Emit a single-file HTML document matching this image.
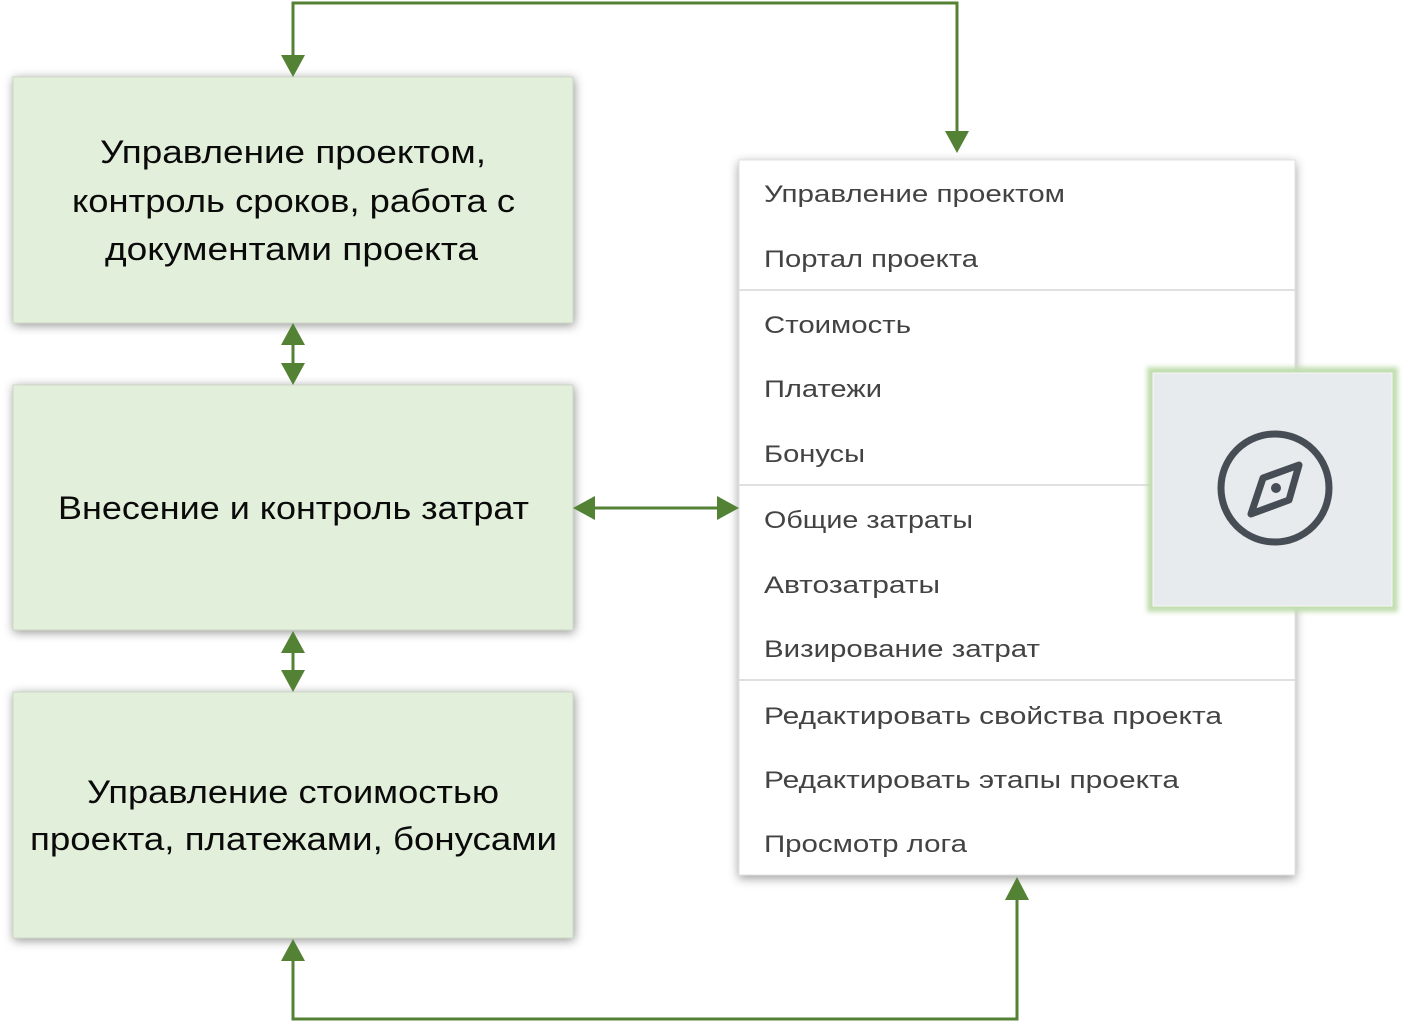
<!DOCTYPE html>
<html>
<head>
<meta charset="utf-8">
<style>
  html,body{margin:0;padding:0;background:#ffffff;}
  svg{display:block;}
  .bx{font-family:"Liberation Sans","Noto Sans CJK SC",sans-serif;font-size:32px;fill:#0a0a0a;}
  .mi{font-family:"Liberation Sans","Noto Sans CJK SC",sans-serif;font-size:24px;fill:#434343;}
</style>
</head>
<body>
<svg width="1407" height="1023" viewBox="0 0 1407 1023" xmlns="http://www.w3.org/2000/svg">
  <defs>
    <filter id="sh" x="-10%" y="-10%" width="120%" height="120%">
      <feDropShadow dx="1" dy="2" stdDeviation="5" flood-color="#000" flood-opacity="0.42"/>
    </filter>
    <filter id="msh" x="-10%" y="-10%" width="120%" height="120%">
      <feDropShadow dx="0" dy="3" stdDeviation="5" flood-color="#000" flood-opacity="0.38"/>
    </filter>
    <filter id="glow" x="-20%" y="-20%" width="140%" height="140%">
      <feGaussianBlur stdDeviation="2.5"/>
    </filter>
  </defs>

  <!-- Left boxes -->
  <rect x="13" y="77" width="560" height="246" fill="#e2efda" stroke="#cdd7c7" stroke-width="1" filter="url(#sh)"/>
  <rect x="13" y="385" width="560" height="245" fill="#e2efda" stroke="#cdd7c7" stroke-width="1" filter="url(#sh)"/>
  <rect x="13" y="692" width="560" height="246" fill="#e2efda" stroke="#cdd7c7" stroke-width="1" filter="url(#sh)"/>

  <text class="bx" x="100" y="163" textLength="386" lengthAdjust="spacingAndGlyphs">Управление проектом,</text>
  <text class="bx" x="72" y="212" textLength="443" lengthAdjust="spacingAndGlyphs">контроль сроков, работа с</text>
  <text class="bx" x="105" y="260" textLength="373" lengthAdjust="spacingAndGlyphs">документами проекта</text>

  <text class="bx" x="58" y="519" textLength="471" lengthAdjust="spacingAndGlyphs">Внесение и контроль затрат</text>

  <text class="bx" x="87" y="803" textLength="412" lengthAdjust="spacingAndGlyphs">Управление стоимостью</text>
  <text class="bx" x="30" y="850" textLength="527" lengthAdjust="spacingAndGlyphs">проекта, платежами, бонусами</text>

  <!-- Menu -->
  <rect x="739" y="160" width="556" height="715" fill="#ffffff" stroke="#e2e2e2" stroke-width="1" filter="url(#msh)"/>
  <line x1="739" y1="290" x2="1295" y2="290" stroke="#e0e0e0" stroke-width="2"/>
  <line x1="739" y1="485" x2="1295" y2="485" stroke="#e0e0e0" stroke-width="2"/>
  <line x1="739" y1="680" x2="1295" y2="680" stroke="#e0e0e0" stroke-width="2"/>

  <text class="mi" x="764" y="202" textLength="301" lengthAdjust="spacingAndGlyphs">Управление проектом</text>
  <text class="mi" x="764" y="267" textLength="214" lengthAdjust="spacingAndGlyphs">Портал проекта</text>
  <text class="mi" x="764" y="333" textLength="147" lengthAdjust="spacingAndGlyphs">Стоимость</text>
  <text class="mi" x="764" y="397" textLength="118" lengthAdjust="spacingAndGlyphs">Платежи</text>
  <text class="mi" x="764" y="462" textLength="101" lengthAdjust="spacingAndGlyphs">Бонусы</text>
  <text class="mi" x="764" y="528" textLength="209" lengthAdjust="spacingAndGlyphs">Общие затраты</text>
  <text class="mi" x="764" y="593" textLength="176" lengthAdjust="spacingAndGlyphs">Автозатраты</text>
  <text class="mi" x="764" y="657" textLength="276" lengthAdjust="spacingAndGlyphs">Визирование затрат</text>
  <text class="mi" x="764" y="724" textLength="458" lengthAdjust="spacingAndGlyphs">Редактировать свойства проекта</text>
  <text class="mi" x="764" y="788" textLength="415" lengthAdjust="spacingAndGlyphs">Редактировать этапы проекта</text>
  <text class="mi" x="764" y="852" textLength="203" lengthAdjust="spacingAndGlyphs">Просмотр лога</text>

  <!-- Compass card -->
  <rect x="1147" y="367" width="251" height="245" fill="#c2deb0" filter="url(#glow)"/>
  <rect x="1153" y="373" width="239" height="233" fill="#e8ebee" stroke="#f6f7f8" stroke-width="1"/>
  <circle cx="1275" cy="488" r="54" fill="none" stroke="#474d55" stroke-width="7"/>
  <polygon points="1299,465 1263,478 1251,514 1289,500" fill="none" stroke="#474d55" stroke-width="7" stroke-linejoin="round"/>
  <circle cx="1276" cy="488" r="5" fill="#474d55"/>

  <!-- Connectors -->
  <g stroke="#548235" stroke-width="3" fill="none">
    <polyline points="293,57 293,3 957,3 957,133"/>
    <line x1="293" y1="343" x2="293" y2="365"/>
    <line x1="293" y1="651" x2="293" y2="672"/>
    <line x1="593" y1="508" x2="719" y2="508"/>
    <polyline points="293,959 293,1019 1017,1019 1017,898"/>
  </g>
  <g fill="#548235">
    <polygon points="281,55 305,55 293,77"/>
    <polygon points="945,131 969,131 957,153"/>
    <polygon points="281,345 305,345 293,323"/>
    <polygon points="281,363 305,363 293,385"/>
    <polygon points="281,653 305,653 293,631"/>
    <polygon points="281,670 305,670 293,692"/>
    <polygon points="595,496 595,520 573,508"/>
    <polygon points="717,496 717,520 739,508"/>
    <polygon points="281,961 305,961 293,939"/>
    <polygon points="1005,900 1029,900 1017,877"/>
  </g>
</svg>
</body>
</html>
